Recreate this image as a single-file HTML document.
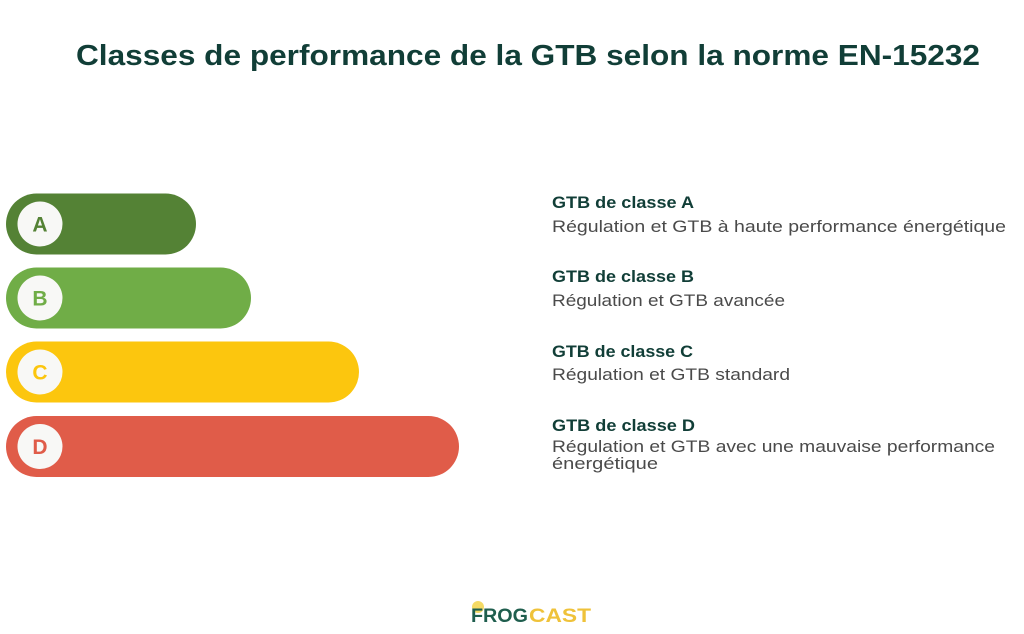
<!DOCTYPE html>
<html>
<head>
<meta charset="utf-8">
<style>
html,body{margin:0;padding:0;background:#fff;}
svg{display:block;}
</style>
</head>
<body>
<svg width="1024" height="634" viewBox="0 0 1024 634" xmlns="http://www.w3.org/2000/svg">
<rect width="1024" height="634" fill="#ffffff"/>
<text x="76" y="65" font-family="Liberation Sans, sans-serif" font-weight="bold" font-size="29" fill="#113e37" textLength="904" lengthAdjust="spacingAndGlyphs">Classes de performance de la GTB selon la norme EN-15232</text>

<!-- Bars -->
<rect x="6" y="193.5" width="190" height="61" rx="30.5" fill="#548235"/>
<rect x="6" y="267.5" width="245" height="61" rx="30.5" fill="#70ad47"/>
<rect x="6" y="341.5" width="353" height="61" rx="30.5" fill="#fcc60e"/>
<rect x="6" y="416" width="453" height="61" rx="30.5" fill="#e05c49"/>

<circle cx="40" cy="224" r="22.5" fill="#f8f8f6"/>
<circle cx="40" cy="298" r="22.5" fill="#f8f8f6"/>
<circle cx="40" cy="372" r="22.5" fill="#f8f8f6"/>
<circle cx="40" cy="446.5" r="22.5" fill="#f8f8f6"/>

<g font-family="Liberation Sans, sans-serif" font-weight="bold" font-size="21" text-anchor="middle">
<text x="40" y="231.5" fill="#548235">A</text>
<text x="40" y="305.5" fill="#70ad47">B</text>
<text x="40" y="379.5" fill="#fcc60e">C</text>
<text x="40" y="454" fill="#e05c49">D</text>
</g>

<!-- Descriptions -->
<g font-family="Liberation Sans, sans-serif" font-weight="bold" font-size="16.5" fill="#113e37">
<text x="552" y="208" textLength="142" lengthAdjust="spacingAndGlyphs">GTB de classe A</text>
<text x="552" y="282" textLength="142" lengthAdjust="spacingAndGlyphs">GTB de classe B</text>
<text x="552" y="357" textLength="141" lengthAdjust="spacingAndGlyphs">GTB de classe C</text>
<text x="552" y="431" textLength="143" lengthAdjust="spacingAndGlyphs">GTB de classe D</text>
</g>
<g font-family="Liberation Sans, sans-serif" font-size="17" fill="#4a4a4a">
<text x="552" y="232" textLength="454" lengthAdjust="spacingAndGlyphs">Régulation et GTB à haute performance énergétique</text>
<text x="552" y="306" textLength="233" lengthAdjust="spacingAndGlyphs">Régulation et GTB avancée</text>
<text x="552" y="380" textLength="238" lengthAdjust="spacingAndGlyphs">Régulation et GTB standard</text>
<text x="552" y="452" textLength="443" lengthAdjust="spacingAndGlyphs">Régulation et GTB avec une mauvaise performance</text>
<text x="552" y="469" textLength="106" lengthAdjust="spacingAndGlyphs">énergétique</text>
</g>

<!-- Logo -->
<circle cx="478" cy="607" r="6" fill="#f2d34a" opacity="0.85"/>
<text x="471" y="622" font-family="Liberation Sans, sans-serif" font-weight="bold" font-size="19" fill="#1f5e4e" textLength="57" lengthAdjust="spacingAndGlyphs">FROG</text>
<text x="529" y="622" font-family="Liberation Sans, sans-serif" font-weight="bold" font-size="19" fill="#efc23a" textLength="62" lengthAdjust="spacingAndGlyphs">CAST</text>
</svg>
</body>
</html>
